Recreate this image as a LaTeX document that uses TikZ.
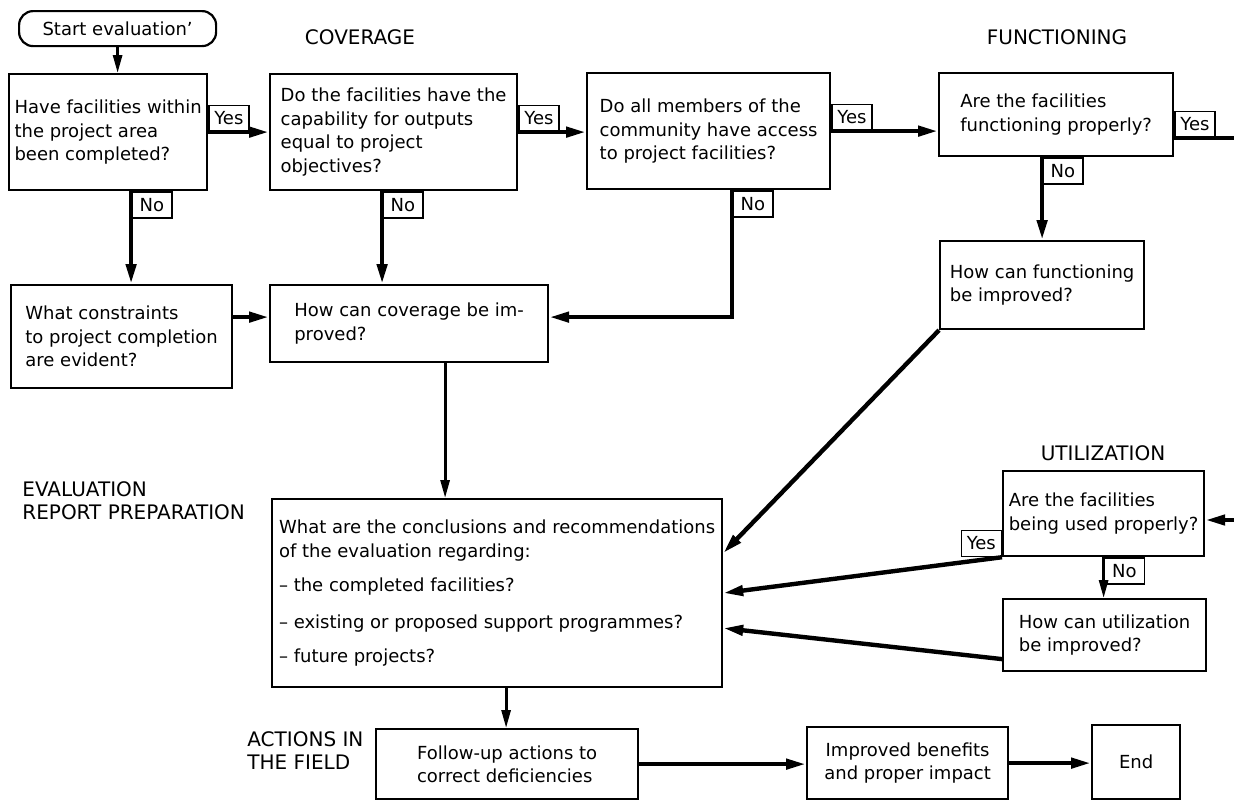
\documentclass[tikz,border=0pt]{standalone}
\usepackage{fontspec}
\setmainfont{DejaVu Sans}
\usetikzlibrary{arrows.meta}

\begin{document}
\begin{tikzpicture}[x=0.5pt,y=-0.5pt,
	main_box/.style={draw,line width=1.1pt,inner sep=0pt,anchor=north west,align=left,font=\fontsize{9}{11.75}\selectfont},
	yes_box/.style={draw,line width=0.7pt,inner sep=1pt,minimum width=20pt,minimum height=13pt,font=\fontsize{9}{11}\selectfont},
	head_text/.style={align=left,inner sep=0pt,font=\fontsize{10}{11.5}\selectfont},
	flow_line/.style={line width=2.2pt,-{Triangle[length=10pt,width=5pt]}},
	thin_line/.style={line width=1.4pt,-{Triangle[length=9pt,width=4.5pt]}}]

	\useasboundingbox (0,0) rectangle (1234,800);

	\node[head_text] (coverage) at (360,37) {COVERAGE};
	\node[head_text] (functioning) at (1057,37) {FUNCTIONING};
	\node[head_text] (utilization) at (1103,453) {UTILIZATION};
	\node[head_text,anchor=west] (report) at (22,501) {EVALUATION\\REPORT PREPARATION};
	\node[head_text,anchor=west] (field) at (247,751) {ACTIONS IN\\THE FIELD};

	\node[main_box,rounded corners=7pt,align=center,minimum width=98.5pt,minimum height=17.5pt] (0) at (18,10) {Start evaluation'};
	\node[main_box,minimum width=99pt,minimum height=58pt] (1) at (8,73) {Have facilities within\\the project area\\been completed?};
	\node[main_box,minimum width=123.5pt,minimum height=58pt] (2) at (269,73) {Do the facilities have the\\capability for outputs\\equal to project\\objectives?};
	\node[main_box,minimum width=121.5pt,minimum height=58pt] (3) at (586,72) {Do all members of the\\community have access\\to project facilities?};
	\node[main_box,minimum width=117pt,minimum height=41.5pt] (4) at (938,72) {Are the facilities\\functioning properly?};
	\node[main_box,minimum width=110.5pt,minimum height=51.5pt] (5) at (10,284) {What constraints\\to project completion\\are evident?};
	\node[main_box,minimum width=139pt,minimum height=38.5pt] (6) at (269,284) {How can coverage be im-\\proved?};
	\node[main_box,minimum width=102pt,minimum height=44pt] (7) at (939,240) {How can functioning\\be improved?};
	\node[main_box,minimum width=225pt,minimum height=94pt] (8) at (271,498) {What are the conclusions and recommendations\\of the evaluation regarding:\\[5.5pt]-- the completed facilities?\\[6.5pt]-- existing or proposed support programmes?\\[5.5pt]-- future projects?};
	\node[main_box,minimum width=100.5pt,minimum height=42.5pt] (9) at (1002,470) {Are the facilities\\being used properly?};
	\node[main_box,minimum width=101.5pt,minimum height=36pt] (10) at (1002,598) {How can utilization\\be improved?};
	\node[main_box,minimum width=131pt,minimum height=35pt] (11) at (375,728) {Follow-up actions to\\correct deficiencies};
	\node[main_box,align=center,minimum width=100.5pt,minimum height=36pt] (12) at (806,726) {Improved benefits\\and proper impact};
	\node[main_box,minimum width=44pt,minimum height=37pt] (13) at (1091,724) {End};

	\coordinate (func_out) at (1234,138);
	\coordinate (util_in) at (1234,520);
	\coordinate (no1_top) at ([xshift=11.5pt]1.south);
	\coordinate (no2_top) at ([xshift=-5.75pt]2.south);
	\coordinate (no3_top) at ([xshift=11.75pt]3.south);
	\coordinate (cov_in) at ([yshift=3.25pt]6.east);
	\coordinate (cov_out) at ([xshift=18pt]6.south);
	\coordinate (report_out) at ([xshift=4.5pt]8.south);

	\draw[thin_line] (0.south) -- (0.south |- 1.north);
	\draw[flow_line] (1.east) -- node[yes_box,pos=0,anchor=south west] {Yes} (1.east -| 2.west);
	\draw[flow_line] (2.east) -- node[yes_box,pos=0,anchor=south west] {Yes} (2.east -| 3.west);
	\draw[flow_line] (3.east) -- node[yes_box,pos=0,anchor=south west] {Yes} (3.east -| 4.west);
	\draw[line width=2.2pt] (func_out -| 4.east) -- node[yes_box,pos=0,anchor=south west] {Yes} (func_out);
	\draw[flow_line] (no1_top) -- node[yes_box,pos=0,anchor=north west] {No} (no1_top |- 5.north);
	\draw[flow_line] (no2_top) -- node[yes_box,pos=0,anchor=north west] {No} (no2_top |- 6.north);
	\draw[flow_line] (no3_top) -- node[yes_box,pos=0,anchor=north west] {No} (no3_top |- cov_in) -- (cov_in);
	\draw[flow_line] (7.north |- 4.south) -- node[yes_box,pos=0,anchor=north west] {No} (7.north);
	\draw[flow_line] (cov_in -| 5.east) -- (cov_in -| 6.west);
	\draw[thin_line] (cov_out) -- (cov_out |- 8.north);
	\draw[flow_line] (7.south west) -- ([yshift=20pt]8.east);
	\draw[flow_line] (util_in) -- (util_in -| 9.east);
	\draw[flow_line] (9.south west) -- node[yes_box,pos=0,anchor=south east] {Yes} (8.east);
	\draw[thin_line] (9.south) -- node[yes_box,pos=0,anchor=north west] {No} (9.south |- 10.north);
	\draw[flow_line] ([yshift=-12pt]10.west) -- ([yshift=-17.5pt]8.east);
	\draw[thin_line] (report_out) -- (report_out |- 11.north);
	\draw[flow_line] (11.east) -- (11.east -| 12.west);
	\draw[flow_line] (12.east) -- (12.east -| 13.west);
\end{tikzpicture}
\end{document}
